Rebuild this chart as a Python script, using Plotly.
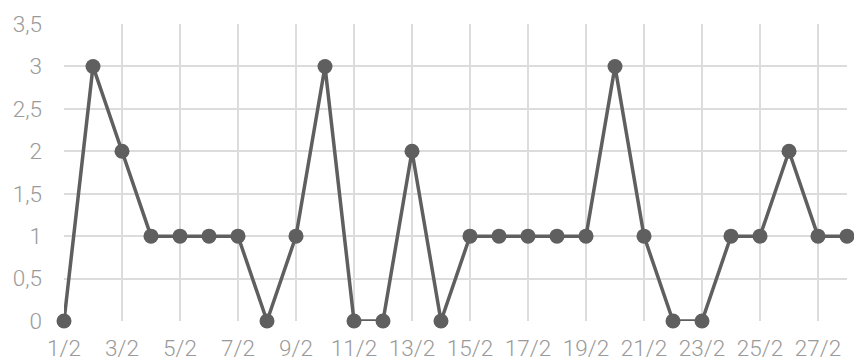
import plotly.graph_objects as go

# Daily counts for February
days = [f"{d}/2" for d in range(1, 29)]
counts = [0, 3, 2, 1, 1, 1, 1, 0, 1, 3, 0, 0, 2, 0,
          1, 1, 1, 1, 1, 3, 1, 0, 0, 1, 1, 2, 1, 1]
y_ticks = [0, 0.5, 1, 1.5, 2, 2.5, 3, 3.5]
x_ticks = days[::2]

line_color = "#5f5f60"
grid_color = "#dcdcdc"
font = dict(family="Roboto Light, Roboto", size=22.5, color="#9a9a9a", weight=300)

fig = go.Figure(
    go.Scatter(
        x=days,
        y=counts,
        mode="lines+markers",
        line=dict(color=line_color, width=3.5),
        marker=dict(color=line_color, size=15),
        cliponaxis=False,
        hoverinfo="x+y",
    )
)

fig.update_layout(
    width=854,
    height=363,
    margin=dict(l=64, r=7, t=24, b=42, autoexpand=False),
    paper_bgcolor="white",
    plot_bgcolor="white",
    showlegend=False,
    separators=",.",
    font=font,
)

fig.update_xaxes(
    type="category",
    range=[0, len(days) - 1],
    tickmode="array",
    tickvals=x_ticks,
    ticktext=x_ticks,
    showgrid=True,
    gridcolor=grid_color,
    gridwidth=2,
    zeroline=False,
    showline=False,
    ticks="",
    ticklabelstandoff=11,
    tickfont=font,
    automargin=False,
)

fig.update_yaxes(
    range=[0, 3.5],
    tickmode="array",
    tickvals=y_ticks,
    showgrid=True,
    gridcolor=grid_color,
    gridwidth=2,
    zeroline=False,
    showline=False,
    ticks="",
    ticklabelstandoff=21,
    tickfont=font,
    automargin=False,
)

fig.write_html("out.html")
